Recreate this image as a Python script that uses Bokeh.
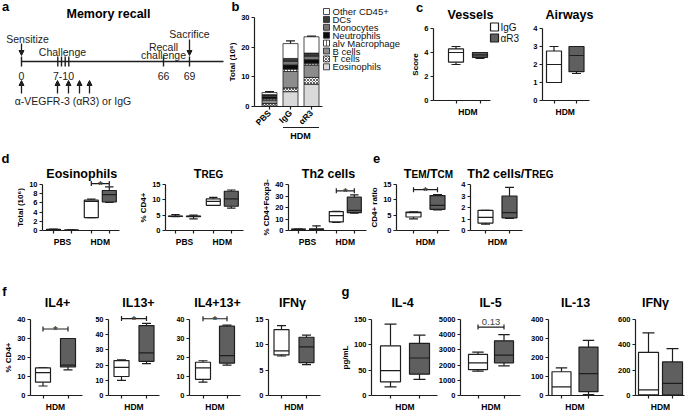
import numpy as np
from bokeh.plotting import figure
from bokeh.models import (Range1d, FixedTicker, ColumnDataSource, Label,
                          Arrow, NormalHead, TeeHead)
from bokeh.layouts import row, column
from bokeh.embed import file_html
from bokeh.resources import INLINE
from bokeh.core.properties import value

FONT = "Liberation Sans"
GREY = "#5f5f5f"
AX = "#1e1e1e"

# ======================= DATA =======================
# (a) protocol schematic
a_events = ["Sensitize", "Challenge", "Recall", "challenge", "Sacrifice"]
a_day_labels = ["0", "7-10", "66", "69"]
a_treatment = "α-VEGFR-3 (αR3) or IgG"

# (b) BAL cell composition (10^6)
b_groups = ["PBS", "IgG", "αR3"]
b_cells = ["Eosinophils", "T cells", "B cells", "alv Macrophage",
           "Neutrophils", "Monocytes", "DCs", "Other CD45+"]
b_eos = [0.2, 5.0, 7.5]
b_tcells = [0.8, 1.3, 2.3]
b_bcells = [1.2, 5.5, 4.2]
b_alvmac = [0.4, 0.8, 0.6]
b_neut = [0.7, 1.4, 1.2]
b_mono = [0.4, 1.3, 1.2]
b_dcs = [0.3, 0.9, 1.0]
b_other = [0.7, 5.0, 5.5]
b_err = [0.3, 0.9, 0.2]

# box statistics: [IgG, aR3] or [PBS IgG, PBS aR3, HDM IgG, HDM aR3]
ves_lo, ves_q1, ves_med, ves_q3, ves_hi = [3.0, 3.5], [3.2, 3.6], [4.0, 3.8], [4.3, 4.0], [4.5, 4.0]
air_lo, air_q1, air_med, air_q3, air_hi = [1.0, 1.5], [1.0, 1.6], [2.0, 2.5], [2.75, 3.0], [3.0, 3.0]

eos_lo = [0.10, 0.03, 2.8, 6.1]
eos_q1 = [0.15, 0.05, 2.8, 6.2]
eos_med = [0.20, 0.08, 6.3, 7.8]
eos_q3 = [0.25, 0.10, 6.6, 8.7]
eos_hi = [0.30, 0.12, 6.8, 9.5]

treg_lo = [4.5, 3.8, 8.2, 7.3]
treg_q1 = [4.6, 4.5, 8.2, 7.9]
treg_med = [4.65, 4.6, 9.5, 10.3]
treg_q3 = [4.7, 4.7, 10.3, 12.8]
treg_hi = [5.2, 5.0, 10.8, 13.2]

th2_lo = [0.9, 0.0, 7.0, 15.0]
th2_q1 = [1.0, 0.3, 7.5, 15.5]
th2_med = [1.1, 0.8, 13.0, 17.5]
th2_q3 = [1.2, 1.5, 16.5, 29.0]
th2_hi = [1.3, 4.1, 16.7, 31.0]

tem_lo, tem_q1, tem_med, tem_q3, tem_hi = [3.8, 6.7], [4.4, 6.9], [5.8, 8.2], [6.0, 11.4], [6.1, 11.7]
rat_lo, rat_q1, rat_med, rat_q3, rat_hi = [0.55, 1.05], [0.65, 1.1], [1.15, 1.55], [1.75, 3.0], [1.75, 3.75]

il4p_lo, il4p_q1, il4p_med, il4p_q3, il4p_hi = [5, 13.5], [7, 15], [12, 16], [14.5, 30], [14.5, 30]
il13p_lo, il13p_q1, il13p_med, il13p_q3, il13p_hi = [10, 21], [12.5, 22.5], [18.5, 28], [23, 46], [23.5, 47.5]
il413_lo, il413_q1, il413_med, il413_q3, il413_hi = [7, 16], [8.5, 17], [14.5, 21], [17.5, 36.5], [18.3, 37]
ifnp_lo, ifnp_q1, ifnp_med, ifnp_q3, ifnp_hi = [7.8, 6.1], [8.0, 6.5], [8.8, 9.6], [13.0, 11.5], [13.8, 11.9]

gil4_lo, gil4_q1, gil4_med, gil4_q3, gil4_hi = [17, 32], [27, 42], [49, 74], [98, 103], [141, 119]
gil5_lo, gil5_q1, gil5_med, gil5_q3, gil5_hi = [1600, 1950], [1700, 2150], [2150, 2650], [2700, 3600], [2850, 4000]
gil13_lo, gil13_q1, gil13_med, gil13_q3, gil13_hi = [0, 5], [0, 20], [45, 115], [125, 255], [145, 290]
gifn_lo, gifn_q1, gifn_med, gifn_q3, gifn_hi = [0, 0], [5, 5], [45, 95], [340, 265], [495, 370]

# significance annotations (box i, box j, y, text)
eos_sig = [(2, 3, 10.2, "*")]
th2_sig = [(2, 3, 34.5, "*")]
tem_sig = [(0, 1, 13.3, "*")]
il4p_sig = [(0, 1, 35, "*")]
il13p_sig = [(0, 1, 50.6, "*")]
il413_sig = [(0, 1, 40.4, "*")]
gil5_sig = [(0, 1, 4500, "0.13")]

# ======================= HELPERS =======================
# approximate advance widths (per 1000 em) of Liberation Sans Bold, for composing small-caps titles
CW = {' ': 278, '/': 278, '2': 556, 'T': 611, 'R': 722, 'E': 667, 'G': 778, 'M': 833, 'C': 722,
      'h': 611, 'c': 556, 'e': 556, 'l': 278, 's': 556}


def text_w(t, size):
    return sum(CW.get(ch, 600) for ch in t) * size / 1000.0


def make_fig(fx0, fx1, fy0, fy1, xr, yr, axes=True):
    kw = dict(width=fx1 - fx0, height=fy1 - fy0, x_range=Range1d(*xr), y_range=Range1d(*yr),
              toolbar_location=None, output_backend="svg", title=None, min_border=0,
              min_border_left=0, min_border_right=0, min_border_top=0, min_border_bottom=0)
    if not axes:
        kw.update(x_axis_type=None, y_axis_type=None)
    p = figure(**kw)
    p.outline_line_color = None
    p.background_fill_color = "white"
    p.border_fill_color = "white"
    if axes:
        p.xgrid.visible = False
        p.ygrid.visible = False
    return p


def add_text(p, conv, x, y, text, size, bold=True, align="center", baseline="middle"):
    dx, dy = conv(x, y)
    p.add_layout(Label(x=dx, y=dy, text=text, text_font=FONT, text_font_size=size,
                       text_font_style="bold" if bold else "normal", text_align=align,
                       text_baseline=baseline, text_color="black"))


def rich_title(p, conv, cx, base_y, parts):
    total = sum(text_w(t, s) for t, s in parts)
    x = cx - total / 2
    for t, s in parts:
        add_text(p, conv, x, base_y, t, "%gpx" % s, align="left", baseline="alphabetic")
        x += text_w(t, s)


def style_axes(p, yticks, ymax, yaxis_x, xbounds, xmajor, xlabels, xminor, ylabel=None):
    xa, ya = p.xaxis[0], p.yaxis[0]
    for a in (xa, ya):
        a.axis_line_color = AX
        a.axis_line_width = 1.2
        a.major_tick_line_color = AX
        a.major_tick_line_width = 1.2
        a.minor_tick_line_color = AX
        a.minor_tick_line_width = 1.2
        a.major_tick_in = 0
        a.minor_tick_in = 0
        a.major_label_text_font = FONT
        a.major_label_text_font_style = "bold"
        a.major_label_text_color = "black"
        a.axis_label_text_font = FONT
        a.axis_label_text_font_style = "bold"
        a.axis_label_text_color = "black"
    ya.fixed_location = yaxis_x
    ya.bounds = (0, ymax)
    ya.ticker = FixedTicker(ticks=yticks, minor_ticks=[])
    ya.major_tick_out = 3
    ya.minor_tick_out = 0
    ya.major_label_text_font_size = "7.5px"
    ya.major_label_standoff = 2
    if ylabel:
        ya.axis_label = ylabel
        ya.axis_label_text_font_size = "8px"
        ya.axis_label_standoff = 1
    xa.fixed_location = 0
    xa.bounds = xbounds
    xa.ticker = FixedTicker(ticks=xmajor, minor_ticks=xminor)
    xa.major_tick_out = 0 if xminor else 3
    xa.minor_tick_out = 3
    xa.major_label_overrides = dict(zip(xmajor, xlabels))
    xa.major_label_text_font_size = "8.5px"
    xa.major_label_standoff = 3


def mapping(fig_box, c1, sp, pos0, y0px, ytop_px, ymax):
    fx0, fx1, fy0, fy1 = fig_box
    ppy = (y0px - ytop_px) / ymax

    def conv(px, py):
        return (pos0 + (px - c1) / sp, (y0px - py) / ppy)
    xr = (conv(fx0, 0)[0], conv(fx1, 0)[0])
    yr = (conv(0, fy1)[1], conv(0, fy0)[1])
    return conv, xr, yr, ppy


def box_panel(fig_box, axis_x, x_end, y0px, ytop_px, c1, sp, bw, pos, grp_pos, grp_lab,
              ymax, yticks, stats, ylabel=None, sig=(), sig_size="11px"):
    conv, xr, yr, ppy = mapping(fig_box, c1, sp, pos[0], y0px, ytop_px, ymax)
    p = make_fig(*fig_box, xr, yr)
    style_axes(p, yticks, ymax, conv(axis_x, 0)[0], (conv(axis_x, 0)[0], conv(x_end, 0)[0]),
               grp_pos, grp_lab, pos, ylabel)
    lo, q1, med, q3, hi = stats
    w = bw / sp
    cap = w * 0.3
    rends = []
    for k, fill in ((0, "white"), (1, GREY)):
        idx = list(range(k, len(pos), 2))
        x = [pos[i] for i in idx]
        src = ColumnDataSource(dict(
            x=x, lo=[lo[i] for i in idx], q1=[q1[i] for i in idx], med=[med[i] for i in idx],
            q3=[q3[i] for i in idx], hi=[hi[i] for i in idx],
            cl=[v - cap for v in x], cr=[v + cap for v in x],
            ml=[v - w / 2 for v in x], mr=[v + w / 2 for v in x]))
        lk = dict(source=src, line_color=AX, line_width=1.2)
        p.segment("x", "lo", "x", "q1", **lk)
        p.segment("x", "q3", "x", "hi", **lk)
        p.segment("cl", "lo", "cr", "lo", **lk)
        p.segment("cl", "hi", "cr", "hi", **lk)
        r = p.vbar(x="x", bottom="q1", top="q3", width=w, source=src, fill_color=fill,
                   line_color=AX, line_width=1.2)
        p.segment("ml", "med", "mr", "med", **lk)
        rends.append(r)
    for (i, j, yb, txt) in sig:
        xa, xb = pos[i], pos[j]
        p.add_layout(Arrow(x_start=xa, y_start=yb, x_end=xb, y_end=yb,
                           start=TeeHead(size=5, line_width=1.2, line_color=AX),
                           end=TeeHead(size=5, line_width=1.2, line_color=AX),
                           line_width=1.2, line_color=AX))
        if txt == "*":
            p.add_layout(Label(x=(xa + xb) / 2, y=yb - 1.0 / ppy, text=txt, text_font=FONT,
                               text_font_size=sig_size, text_font_style="bold", text_align="center",
                               text_baseline="alphabetic"))
        else:
            p.add_layout(Label(x=(xa + xb) / 2, y=yb + 5 / ppy, text=txt, text_font=FONT,
                               text_font_size="9.5px", text_align="center", text_baseline="alphabetic"))
    return p, conv, rends

# ======================= PANEL A =======================
pa = make_fig(0, 228, 0, 140, (0, 228), (140, 0), axes=False)
ca = lambda x, y: (x, y)
tl_y = 61
tick_x = [21, 57.3, 61, 64.7, 68.3, 163, 189]
pa.segment(x0=[21], y0=[tl_y], x1=[223], y1=[tl_y], line_color=AX, line_width=1.4)
pa.segment(x0=tick_x, y0=[56] * len(tick_x), x1=tick_x, y1=[66] * len(tick_x), line_color=AX, line_width=1.4)
tf = dict(text_font=value(FONT), text_font_size="10.5px", text_color="#222",
          text_align="center", text_baseline="middle")
pa.text(x=[21, 63, 163, 189], y=[75] * 4, text=a_day_labels, **tf)
pa.text(x=[27, 62, 163, 163, 189], y=[38, 51, 46, 54, 33], text=a_events, **tf)
pa.text(x=[72.5], y=[100], text=[a_treatment], **tf)
for (x, y0, y1) in [(21, 43, 55), (189, 39, 55)]:
    pa.add_layout(Arrow(x_start=x, y_start=y0, x_end=x, y_end=y1, line_width=1.3, line_color=AX,
                        end=NormalHead(size=5, fill_color=AX, line_color=AX)))
for x in [21, 57, 68, 79, 89]:
    pa.add_layout(Arrow(x_start=x, y_start=93, x_end=x, y_end=80, line_width=1.3, line_color=AX,
                        end=NormalHead(size=5, fill_color=AX, line_color=AX)))
add_text(pa, ca, 108, 13, "Memory recall", "12.5px")
add_text(pa, ca, 5, 6, "a", "13px")

# ======================= PANEL B =======================
b_pos = [0, 1, 2]
b_box = (228, 408, 0, 140)
cb, b_xr, b_yr, b_ppy = mapping(b_box, 269, 21, 0, 106, 17, 30)
pb = make_fig(*b_box, b_xr, b_yr)
style_axes(pb, [0, 10, 20, 30], 30, cb(254, 0)[0], (cb(254, 0)[0], cb(322, 0)[0]),
           b_pos, b_groups, [], "Total (10⁶)")
pb.xaxis[0].major_label_orientation = np.pi / 4
pb.xaxis[0].major_label_standoff = 2
layers = [b_eos, b_tcells, b_bcells, b_alvmac, b_neut, b_mono, b_dcs, b_other]
fills = ["#d9d9d9", "#ffffff", "#8c8c8c", "#ffffff", "#0a0a0a", "#767676", "#3a3a3a", "#ffffff"]
hatches = ["blank", "diagonal_cross", "blank", "vertical_line", "blank", "blank", "blank", "blank"]
bw = 15 / 21
bottom = np.zeros(3)
for vals, fc, hp in zip(layers, fills, hatches):
    top = bottom + np.array(vals)
    pb.vbar(x=b_pos, bottom=bottom.tolist(), top=top.tolist(), width=bw, fill_color=fc,
            line_color=AX, line_width=0.8, hatch_pattern=hp, hatch_color="#555555",
            hatch_scale=3, hatch_weight=0.9)
    bottom = top
tot = bottom
errtop = tot + np.array(b_err)
pb.segment(x0=b_pos, y0=tot.tolist(), x1=b_pos, y1=errtop.tolist(), line_color=AX, line_width=1.2)
pb.segment(x0=[x - bw * 0.3 for x in b_pos], y0=errtop.tolist(), x1=[x + bw * 0.3 for x in b_pos],
           y1=errtop.tolist(), line_color=AX, line_width=1.2)
# legend (top entry = last stacked layer)
n = len(b_cells)
leg_y_px = [11 + 7.9 * i for i in range(n)]
leg_src = ColumnDataSource(dict(x=[cb(326, 0)[0]] * n, y=[cb(0, yy)[1] for yy in leg_y_px],
                                tx=[cb(332, 0)[0]] * n, name=b_cells[::-1], fc=fills[::-1], hp=hatches[::-1]))
pb.rect(x="x", y="y", width=6, height=6, width_units="screen", height_units="screen",
        fill_color="fc", hatch_pattern="hp", hatch_color="#555555", hatch_scale=3, hatch_weight=0.9,
        line_color=AX, line_width=0.8, source=leg_src)
pb.text(x="tx", y="y", text="name", text_font=value(FONT), text_font_size="9.5px",
        text_baseline="middle", text_align="left", text_color="#111", source=leg_src)
hy = cb(0, 127)[1]
pb.add_layout(Arrow(x_start=b_pos[1] - bw / 2, y_start=hy, x_end=b_pos[2] + bw / 2, y_end=hy,
                    start=None, end=None, line_width=1.2, line_color=AX))
add_text(pb, cb, 300, 135, "HDM", "9px")
add_text(pb, cb, 235, 6, "b", "13px")

# ======================= PANEL C =======================
hd = ([1, 2], [1.5], ["HDM"])
pv, cv, rv = box_panel((408, 527, 0, 140), 433, 490, 100, 28, 455.5, 24, 15, *hd,
                       6, [0, 2, 4, 6], (ves_lo, ves_q1, ves_med, ves_q3, ves_hi), "Score")
add_text(pv, cv, 470, 14, "Vessels", "12.5px")
add_text(pv, cv, 419, 7, "c", "13px")
c_leg = ["IgG", "αR3"]
c_src = ColumnDataSource(dict(x=[cv(494, 0)[0]] * 2, y=[cv(0, 26.5)[1], cv(0, 37.5)[1]],
                              tx=[cv(500, 0)[0]] * 2, name=c_leg, fc=["white", GREY]))
pv.rect(x="x", y="y", width=8, height=8, width_units="screen", height_units="screen",
        fill_color="fc", line_color=AX, line_width=1.2, source=c_src)
pv.text(x="tx", y="y", text="name", text_font=value(FONT), text_font_size="10px",
        text_baseline="middle", text_align="left", text_color="#111", source=c_src)

pw, cw, _ = box_panel((527, 685, 0, 140), 542, 589, 100, 28, 553.5, 22.5, 15, *hd,
                      4, [0, 1, 2, 3, 4], (air_lo, air_q1, air_med, air_q3, air_hi))
add_text(pw, cw, 569, 14, "Airways", "12.5px")

# ======================= ROW D/E =======================
d_pos = [1, 2, 3.1, 4.1]
d_grp = [1.5, 3.6]
d_lab = ["PBS", "HDM"]
Z2, T2 = 230, 184
TB2 = 173.5
pe, ce, _ = box_panel((0, 128, 140, 285), 42, 119, Z2, T2, 53, 18, 14, d_pos, d_grp, d_lab, 10,
                      [0, 2, 4, 6, 8, 10], (eos_lo, eos_q1, eos_med, eos_q3, eos_hi),
                      "Total (10⁶)", eos_sig)
rich_title(pe, ce, 85, TB2, [("Eosinophils", 12.5)])
add_text(pe, ce, 5, 158, "d", "13px")

pt, ct, _ = box_panel((128, 250, 140, 285), 165, 243, Z2, T2, 175, 18, 14, d_pos, d_grp, d_lab, 15,
                      [0, 5, 10, 15], (treg_lo, treg_q1, treg_med, treg_q3, treg_hi), "% CD4+")
rich_title(pt, ct, 208, TB2, [("T", 12.5), ("REG", 10)])

ph, ch, _ = box_panel((250, 367, 140, 285), 288, 366, Z2, T2, 298, 18, 14, d_pos, d_grp, d_lab, 40,
                      [0, 10, 20, 30, 40], (th2_lo, th2_q1, th2_med, th2_q3, th2_hi),
                      "% CD4+Foxp3-", th2_sig)
rich_title(ph, ch, 328, TB2, [("Th2 cells", 12.5)])

pm, cm, _ = box_panel((367, 456, 140, 285), 396, 449, Z2, T2, 413, 24, 15, *hd, 15,
                      [0, 5, 10, 15], (tem_lo, tem_q1, tem_med, tem_q3, tem_hi), "CD4+ ratio", tem_sig)
rich_title(pm, cm, 428, TB2, [("T", 12.5), ("EM", 10), ("/T", 12.5), ("CM", 10)])
add_text(pm, cm, 376, 158, "e", "13px")

pr, cr, _ = box_panel((456, 685, 140, 285), 470, 522, Z2, T2, 485, 24, 15, *hd, 4,
                      [0, 1, 2, 3, 4], (rat_lo, rat_q1, rat_med, rat_q3, rat_hi))
rich_title(pr, cr, 510, TB2, [("Th2 cells/T", 12.5), ("REG", 10)])

# ======================= ROW F/G =======================
Z3, T3 = 395, 319
R3 = (285, 410)
p1, c1_, _ = box_panel((0, 95, *R3), 30, 82, Z3, T3, 42.5, 25, 15, *hd, 40, [0, 10, 20, 30, 40],
                       (il4p_lo, il4p_q1, il4p_med, il4p_q3, il4p_hi), "% CD4+", il4p_sig)
add_text(p1, c1_, 57, 302, "IL4+", "12.5px")
add_text(p1, c1_, 4, 291, "f", "13px")

p2, c2, _ = box_panel((95, 176, *R3), 108, 159, Z3, T3, 121, 25, 15, *hd, 50, [0, 10, 20, 30, 40, 50],
                      (il13p_lo, il13p_q1, il13p_med, il13p_q3, il13p_hi), None, il13p_sig)
add_text(p2, c2, 138, 302, "IL13+", "12.5px")

p3, c3, _ = box_panel((176, 254, *R3), 189, 240, Z3, T3, 202.5, 24, 15, *hd, 40, [0, 10, 20, 30, 40],
                      (il413_lo, il413_q1, il413_med, il413_q3, il413_hi), None, il413_sig)
add_text(p3, c3, 217, 302, "IL4+13+", "12.5px")

p4, c4, _ = box_panel((254, 340, *R3), 268, 320, Z3, T3, 281, 25, 15, *hd, 15, [0, 5, 10, 15],
                      (ifnp_lo, ifnp_q1, ifnp_med, ifnp_q3, ifnp_hi))
add_text(p4, c4, 292, 302, "IFNγ", "12.5px")

p5, c5, _ = box_panel((340, 438, *R3), 371, 437, Z3, T3, 390, 29, 20, *hd, 150, [0, 50, 100, 150],
                      (gil4_lo, gil4_q1, gil4_med, gil4_q3, gil4_hi), "pg/mL")
add_text(p5, c5, 402, 302, "IL-4", "12.5px")
add_text(p5, c5, 345, 291, "g", "13px")

p6, c6, _ = box_panel((438, 528, *R3), 460, 520, Z3, T3, 477.5, 26, 19, *hd, 5000,
                      [0, 1000, 2000, 3000, 4000, 5000],
                      (gil5_lo, gil5_q1, gil5_med, gil5_q3, gil5_hi), None, gil5_sig)
add_text(p6, c6, 490, 302, "IL-5", "12.5px")

p7, c7, _ = box_panel((528, 616, *R3), 548, 603, Z3, T3, 561, 27, 19, *hd, 400, [0, 100, 200, 300, 400],
                      (gil13_lo, gil13_q1, gil13_med, gil13_q3, gil13_hi))
add_text(p7, c7, 575, 302, "IL-13", "12.5px")

p8, c8, _ = box_panel((616, 685, *R3), 635, 684, Z3, T3, 648, 24, 20, *hd, 600, [0, 200, 400, 600],
                      (gifn_lo, gifn_q1, gifn_med, gifn_q3, gifn_hi))
add_text(p8, c8, 655, 302, "IFNγ", "12.5px")

root = column(row(pa, pb, pv, pw, spacing=0),
              row(pe, pt, ph, pm, pr, spacing=0),
              row(p1, p2, p3, p4, p5, p6, p7, p8, spacing=0),
              spacing=0)

with open("out.html", "w", encoding="utf-8") as f:
    f.write(file_html(root, INLINE, title="Memory recall"))
